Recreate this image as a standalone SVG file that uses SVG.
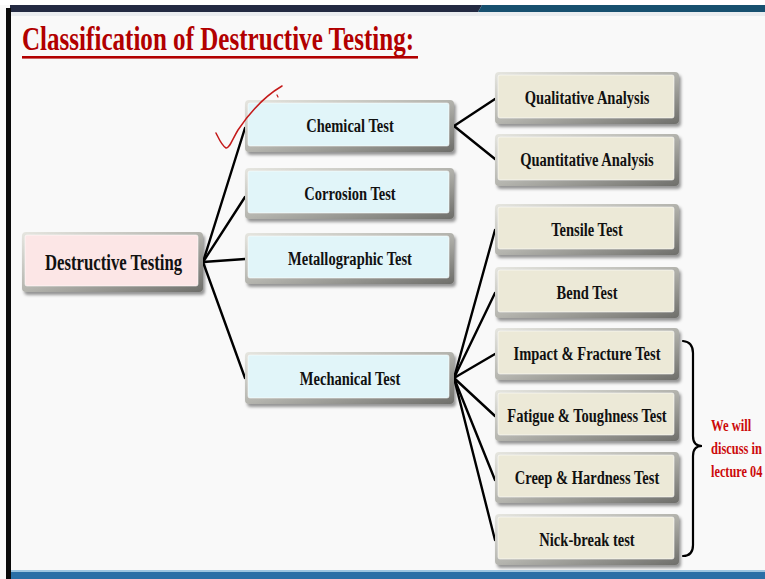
<svg xmlns="http://www.w3.org/2000/svg" width="765" height="579" viewBox="0 0 765 579">
  <defs>
    <linearGradient id="frameGrad" x1="0" y1="0" x2="1" y2="1">
      <stop offset="0" stop-color="#e6e6e0"/>
      <stop offset="0.5" stop-color="#b4b4ae"/>
      <stop offset="1" stop-color="#6e6e6a"/>
    </linearGradient>
    <filter id="drop" x="-10%" y="-20%" width="125%" height="150%">
      <feDropShadow dx="2" dy="3" stdDeviation="1.6" flood-color="#000" flood-opacity="0.4"/>
    </filter>
  </defs>
  <style>
    .frame { fill: url(#frameGrad); filter: url(#drop); }
    .pink { fill: #fce6e6; }
    .blue { fill: #e1f5f9; }
    .beige { fill: #ece9d7; }
    .face { stroke: #ffffff; stroke-opacity: 0.55; stroke-width: 1; }
    .lbl { font-family: "Liberation Serif", "Times New Roman", serif; font-weight: bold; font-size: 19.5px; fill: #111; text-anchor: middle; }
    .big { font-size: 23px; }
    .link { fill: none; stroke: #000; stroke-width: 2.4; stroke-linecap: round; }
    .note { font-family: "Liberation Serif", "Times New Roman", serif; font-weight: bold; font-size: 16px; fill: #cc0a0a; }
  </style>

  <!-- page background and frame bars -->
  <rect x="0" y="0" width="765" height="579" fill="#f9f9f9"/>
  <rect x="0" y="0" width="765" height="5" fill="#ffffff"/>
  <polygon points="10,5 482,5 478,12 10,12" fill="#232a42"/>
  <polygon points="482,5 765,5 765,12 478,12" fill="#17506f"/>
  <rect x="10" y="12" width="755" height="4" fill="#e4e8ec" opacity="0.7"/>
  <rect x="6" y="8" width="5" height="571" fill="#0a0a0a"/>
  <rect x="11" y="570" width="754" height="2" fill="#9cc4e0"/>
  <rect x="11" y="572" width="754" height="7" fill="#2a6ea6"/>

  <!-- heading (condensed serif) -->
  <g id="title">
    <text transform="translate(22,50) scale(0.76,1)" font-family="Liberation Serif, Times New Roman, serif" font-weight="bold" font-size="33" fill="#b20000">Classification of Destructive Testing:</text>
    <rect x="22" y="56" width="396" height="2.6" fill="#b20000"/>
  </g>

  <!-- connectors -->
  <g id="connectors">
    <path class="link" d="M203,262 L245,128"/>
    <path class="link" d="M203,262 L245,197"/>
    <path class="link" d="M203,262 L245,259"/>
    <path class="link" d="M203,262 L245,378"/>
    <path class="link" d="M454,126 L495,99"/>
    <path class="link" d="M454,126 L495,159"/>
    <path class="link" d="M454,378 L495,230"/>
    <path class="link" d="M454,378 L495,293"/>
    <path class="link" d="M454,378 L495,354"/>
    <path class="link" d="M454,378 L495,416"/>
    <path class="link" d="M454,378 L495,480"/>
    <path class="link" d="M454,378 L495,540"/>
  </g>

  <!-- root node -->
  <g id="destructive-testing">
    <rect class="frame" x="22" y="232" width="181" height="60" rx="4"/>
    <rect class="face pink" x="25" y="235" width="173" height="51" rx="2"/>
    <text class="lbl big" transform="translate(113.5,270) scale(0.728,1)">Destructive Testing</text>
  </g>

  <!-- second level -->
  <g id="chemical-test">
    <rect class="frame" x="245" y="100" width="209" height="52" rx="4"/>
    <rect class="face blue" x="248" y="103" width="201" height="43" rx="2"/>
    <text class="lbl" transform="translate(350,132) scale(0.745,1)">Chemical Test</text>
  </g>
  <g id="corrosion-test">
    <rect class="frame" x="245" y="168" width="209" height="51" rx="4"/>
    <rect class="face blue" x="248" y="171" width="201" height="42" rx="2"/>
    <text class="lbl" transform="translate(350,200) scale(0.745,1)">Corrosion Test</text>
  </g>
  <g id="metallographic-test">
    <rect class="frame" x="245" y="233" width="209" height="51" rx="4"/>
    <rect class="face blue" x="248" y="236" width="201" height="42" rx="2"/>
    <text class="lbl" transform="translate(350,265) scale(0.745,1)">Metallographic Test</text>
  </g>
  <g id="mechanical-test">
    <rect class="frame" x="245" y="352" width="209" height="52" rx="4"/>
    <rect class="face blue" x="248" y="355" width="201" height="43" rx="2"/>
    <text class="lbl" transform="translate(350,385) scale(0.745,1)">Mechanical Test</text>
  </g>

  <!-- third level -->
  <g id="qualitative-analysis">
    <rect class="frame" x="495" y="72" width="184" height="52" rx="4"/>
    <rect class="face beige" x="498" y="75" width="176" height="43" rx="2"/>
    <text class="lbl" transform="translate(587,104) scale(0.745,1)">Qualitative Analysis</text>
  </g>
  <g id="quantitative-analysis">
    <rect class="frame" x="495" y="134" width="184" height="52" rx="4"/>
    <rect class="face beige" x="498" y="137" width="176" height="43" rx="2"/>
    <text class="lbl" transform="translate(587,166) scale(0.745,1)">Quantitative Analysis</text>
  </g>
  <g id="tensile-test">
    <rect class="frame" x="495" y="204" width="184" height="51" rx="4"/>
    <rect class="face beige" x="498" y="207" width="176" height="42" rx="2"/>
    <text class="lbl" transform="translate(587,236) scale(0.745,1)">Tensile Test</text>
  </g>
  <g id="bend-test">
    <rect class="frame" x="495" y="267" width="184" height="51" rx="4"/>
    <rect class="face beige" x="498" y="270" width="176" height="42" rx="2"/>
    <text class="lbl" transform="translate(587,299) scale(0.745,1)">Bend Test</text>
  </g>
  <g id="impact-fracture-test">
    <rect class="frame" x="495" y="328" width="184" height="52" rx="4"/>
    <rect class="face beige" x="498" y="331" width="176" height="43" rx="2"/>
    <text class="lbl" transform="translate(587,360) scale(0.745,1)">Impact &amp; Fracture Test</text>
  </g>
  <g id="fatigue-toughness-test">
    <rect class="frame" x="495" y="390" width="184" height="51" rx="4"/>
    <rect class="face beige" x="498" y="393" width="176" height="42" rx="2"/>
    <text class="lbl" transform="translate(587,422) scale(0.745,1)">Fatigue &amp; Toughness Test</text>
  </g>
  <g id="creep-hardness-test">
    <rect class="frame" x="495" y="452" width="184" height="51" rx="4"/>
    <rect class="face beige" x="498" y="455" width="176" height="42" rx="2"/>
    <text class="lbl" transform="translate(587,484) scale(0.745,1)">Creep &amp; Hardness Test</text>
  </g>
  <g id="nick-break-test">
    <rect class="frame" x="495" y="514" width="184" height="51" rx="4"/>
    <rect class="face beige" x="498" y="517" width="176" height="42" rx="2"/>
    <text class="lbl" transform="translate(587,546) scale(0.745,1)">Nick-break test</text>
  </g>

  <!-- brace grouping the last four mechanical tests, with its note -->
  <g id="lecture-note">
    <path d="M683,341 Q693,342 693,353 L693,436 Q693,446 702,446 Q693,446 693,456 L693,545 Q693,556 683,556" fill="none" stroke="#000" stroke-width="2.2" stroke-linecap="round"/>
    <text class="note" transform="translate(711,431) scale(0.79,1)">We will</text>
    <text class="note" transform="translate(711,454) scale(0.78,1)">discuss in</text>
    <text class="note" transform="translate(711,477) scale(0.77,1)">lecture 04</text>
  </g>

  <!-- hand-drawn tick mark -->
  <g id="tick">
    <path d="M216,133 C219,139 222,146 226,148 C229,149 232,140 238,130 C250,112 265,96 282,86" fill="none" stroke="#c41a1a" stroke-width="1.5" stroke-linecap="round"/>
    <path d="M277,95 L278,97" fill="none" stroke="#c41a1a" stroke-width="1.2" stroke-linecap="round"/>
  </g>
</svg>
